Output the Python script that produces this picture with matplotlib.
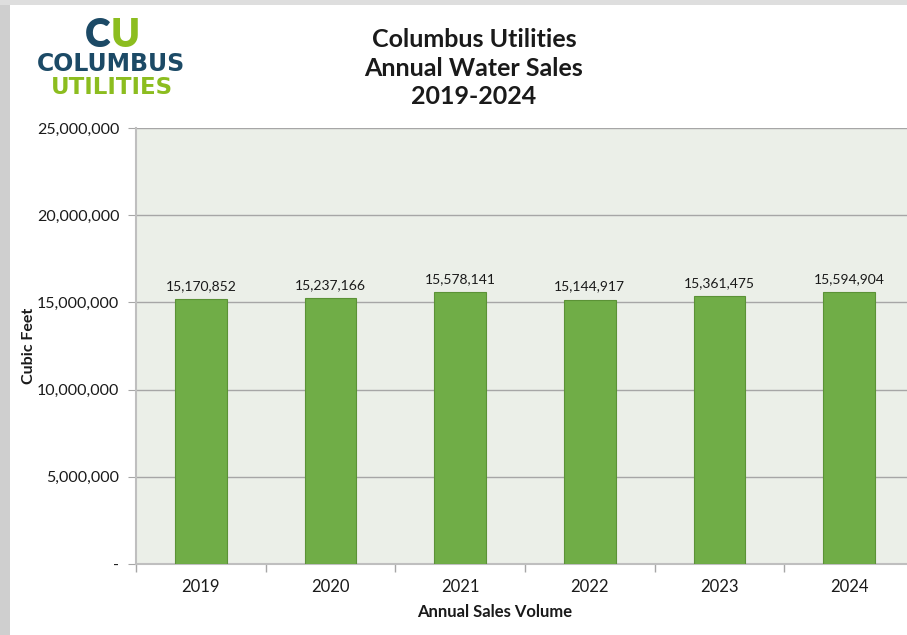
import matplotlib.pyplot as plt
from matplotlib.patches import Rectangle
from matplotlib.ticker import FuncFormatter, FixedLocator

# data
years = ["2019", "2020", "2021", "2022", "2023", "2024"]
sales = [15170852, 15237166, 15578141, 15144917, 15361475, 15594904]
y_ticks = [0, 5000000, 10000000, 15000000, 20000000, 25000000]

TEAL = "#1c4a66"
LIME = "#8cbd1f"
BAR = "#70ad47"
BAR_EDGE = "#5b9236"
PLOT_BG = "#ebefe8"
GRID = "#a6a6a6"
TXT = "#1a1a1a"

plt.rcParams["font.family"] = ["Lato", "DejaVu Sans"]

W, H = 907, 635
fig = plt.figure(figsize=(W / 100, H / 100), dpi=100)
fig.patch.set_facecolor("white")

# screenshot frame: gray strips on the left and top
fig.patches.append(Rectangle((0, 0), 10 / W, 1, transform=fig.transFigure,
                             facecolor="#cfcfcf", edgecolor="none", zorder=0))
fig.patches.append(Rectangle((0, 1 - 5 / H), 1, 5 / H, transform=fig.transFigure,
                             facecolor="#dedede", edgecolor="none", zorder=0))

# plot area (runs slightly past the right edge, as in the cropped screenshot)
left, top, bottom = 136, 128, 564
width = 778
ax = fig.add_axes([left / W, (H - bottom) / H, width / W, (bottom - top) / H])
ax.set_facecolor(PLOT_BG)

x = list(range(len(years)))
ax.bar(x, sales, width=0.4, color=BAR, edgecolor=BAR_EDGE, linewidth=0.8, zorder=3)

for xi, v in zip(x, sales):
    ax.text(xi, v + 420000, f"{v:,}", ha="center", va="bottom",
            fontsize=10, color=TXT, zorder=4)

ax.set_xlim(-0.5, len(years) - 0.5)
ax.set_ylim(0, 25000000)

ax.set_yticks(y_ticks)
ax.yaxis.set_major_formatter(FuncFormatter(lambda v, p: "-" if v == 0 else f"{int(v):,}"))
ax.yaxis.grid(True, color=GRID, linewidth=1.0, zorder=1)
ax.tick_params(axis="y", length=6, color=GRID, labelsize=11.5, labelcolor=TXT, pad=6)

ax.set_xticks(x)
ax.set_xticklabels(years)
ax.xaxis.set_minor_locator(FixedLocator([i - 0.5 for i in range(len(years) + 1)]))
ax.tick_params(axis="x", which="major", length=0, labelsize=12, labelcolor=TXT, pad=11)
ax.tick_params(axis="x", which="minor", length=6, color=GRID, width=1.0)

for side in ["top", "right"]:
    ax.spines[side].set_visible(False)
for side in ["left", "bottom"]:
    ax.spines[side].set_color("#bfbfbf")
    ax.spines[side].set_linewidth(1.5)
ax.set_axisbelow(True)

ax.set_ylabel("Cubic Feet", fontsize=11.5, fontweight="bold", color=TXT)
ax.yaxis.set_label_coords((36 - left) / width, 0.5)
ax.set_xlabel("Annual Sales Volume", fontsize=12, fontweight="bold", color=TXT)
ax.xaxis.set_label_coords((494.5 - left) / width, -(604 - bottom) / (bottom - top))

# title
fig.text(474 / W, 1 - 68 / H, "Columbus Utilities\nAnnual Water Sales\n2019-2024",
         ha="center", va="center", fontsize=18, fontweight="bold",
         color=TXT, linespacing=1.3)

# logo
fig.text(110 / W, 1 - 47 / H, "C", ha="right", va="baseline", fontsize=28,
         fontweight="heavy", color=TEAL)
fig.text(111 / W, 1 - 47 / H, "U", ha="left", va="baseline", fontsize=28,
         fontweight="heavy", color=LIME)
fig.text(111 / W, 1 - 71 / H, "COLUMBUS", ha="center", va="baseline", fontsize=17,
         fontweight="heavy", color=TEAL, family=["DejaVu Sans"])
fig.text(112 / W, 1 - 94 / H, "UTILITIES", ha="center", va="baseline", fontsize=16.5,
         fontweight="heavy", color=LIME, family=["DejaVu Sans"])

fig.savefig("out.png", dpi=100)
